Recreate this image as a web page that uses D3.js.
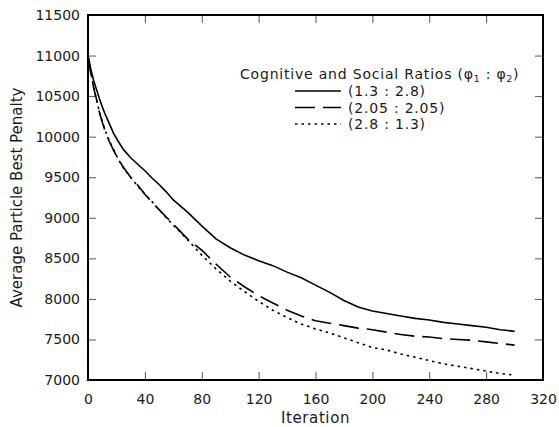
<!DOCTYPE html>
<html>
<head>
<meta charset="utf-8">
<script src="https://cdn.jsdelivr.net/npm/d3@7"></script>
<style>
  body { margin: 0; background: #fff; }
  text { font-family: "DejaVu Sans", Verdana, sans-serif; fill: #1a1a1a; }
</style>
</head>
<body>
<div id="chart"></div>
<script>
// iterations
const iterations = [0, 2, 4, 6, 8, 10, 12, 15, 18, 21, 25, 30, 35, 40, 45, 50, 55, 60, 70, 80, 90, 100,
  110, 120, 130, 140, 150, 160, 170, 180, 190, 200, 210, 220, 230, 240, 250, 260, 270, 280, 290, 300];

// (1.3 : 2.8)
const ratio13_28 = [11000, 10830, 10690, 10580, 10470, 10370, 10280, 10160, 10040, 9950, 9840, 9740, 9660, 9580, 9490, 9410, 9320, 9220, 9070, 8900, 8740, 8630,
  8540, 8470, 8410, 8330, 8260, 8170, 8080, 7980, 7900, 7850, 7820, 7790, 7760, 7740, 7710, 7690, 7670, 7650, 7620, 7600];
// (2.05 : 2.05)
const ratio205_205 = [11000, 10780, 10600, 10460, 10300, 10180, 10070, 9940, 9830, 9730, 9620, 9500, 9400, 9290, 9190, 9100, 9010, 8920, 8740, 8600, 8430, 8270,
  8150, 8040, 7950, 7860, 7790, 7730, 7700, 7670, 7640, 7620, 7590, 7560, 7540, 7530, 7510, 7500, 7490, 7470, 7450, 7430];
// (2.8 : 1.3)
const ratio28_13 = [11000, 10790, 10610, 10450, 10310, 10190, 10080, 9950, 9840, 9730, 9610, 9500, 9390, 9290, 9200, 9100, 9000, 8910, 8730, 8540, 8370, 8220,
  8090, 7970, 7860, 7770, 7690, 7630, 7580, 7520, 7460, 7400, 7370, 7320, 7280, 7240, 7200, 7170, 7140, 7110, 7080, 7060];

const seriesNames = ["(1.3 : 2.8)", "(2.05 : 2.05)", "(2.8 : 1.3)"];
const xTicks = [0, 40, 80, 120, 160, 200, 240, 280, 320];
const yTicks = [7000, 7500, 8000, 8500, 9000, 9500, 10000, 10500, 11000, 11500];

const width = 559, height = 427;
const margin = { left: 88, right: 16, top: 15, bottom: 47 };
const dashes = [null, "20,8", "2.5,4"];

const svg = d3.select("#chart").append("svg")
  .attr("width", width)
  .attr("height", height);

const x = d3.scaleLinear().domain([0, 320]).range([margin.left, width - margin.right]);
const y = d3.scaleLinear().domain([7000, 11500]).range([height - margin.bottom, margin.top]);

// inner ticks on all four sides
const addAxis = function (axis, tx, ty) {
  const g = svg.append("g").attr("transform", "translate(" + tx + "," + ty + ")").call(axis);
  g.select(".domain").remove();
  g.selectAll(".tick line").attr("stroke", "#555").attr("stroke-width", 1);
  g.selectAll(".tick text").style("font-size", "14px").attr("fill", "#1a1a1a");
  return g;
};

addAxis(d3.axisBottom(x).tickValues(xTicks).tickSize(-8).tickPadding(14).tickFormat(d3.format("d")), 0, y(7000));
addAxis(d3.axisTop(x).tickValues(xTicks).tickSize(-8).tickFormat(""), 0, y(11500));
addAxis(d3.axisLeft(y).tickValues(yTicks).tickSize(-8).tickPadding(8).tickFormat(d3.format("d")), x(0), 0);
addAxis(d3.axisRight(y).tickValues(yTicks).tickSize(-8).tickFormat(""), x(320), 0);

// frame
svg.append("rect")
  .attr("x", x(0)).attr("y", y(11500))
  .attr("width", x(320) - x(0)).attr("height", y(7000) - y(11500))
  .attr("fill", "none").attr("stroke", "#000").attr("stroke-width", 2);

const line = d3.line()
  .x(function (d) { return x(d[0]); })
  .y(function (d) { return y(d[1]); });

[ratio13_28, ratio205_205, ratio28_13].forEach(function (vals, i) {
  svg.append("path")
    .datum(iterations.map(function (it, j) { return [it, vals[j]]; }))
    .attr("fill", "none")
    .attr("stroke", "#000")
    .attr("stroke-width", 1.6)
    .attr("stroke-dasharray", dashes[i])
    .attr("d", line);
});

// axis titles
svg.append("text")
  .attr("x", (x(0) + x(320)) / 2).attr("y", 423)
  .attr("text-anchor", "middle").style("font-size", "15px").style("letter-spacing", "0.6px")
  .text("Iteration");

svg.append("text")
  .attr("transform", "translate(22," + (y(7000) + y(11500)) / 2 + ") rotate(-90)")
  .attr("text-anchor", "middle").style("font-size", "15px")
  .text("Average Particle Best Penalty");

// legend
const legend = svg.append("g");
const title = legend.append("text").attr("x", 240).attr("y", 79)
  .style("font-size", "14px").style("letter-spacing", "0.8px");
title.append("tspan").text("Cognitive and Social Ratios (\u03c6");
title.append("tspan").attr("dy", 3).style("font-size", "9px").text("1");
title.append("tspan").attr("dy", -3).text(" : \u03c6");
title.append("tspan").attr("dy", 3).style("font-size", "9px").text("2");
title.append("tspan").attr("dy", -3).text(")");

seriesNames.forEach(function (name, i) {
  const cy = 91 + i * 16.5;
  legend.append("line")
    .attr("x1", 295).attr("x2", 341).attr("y1", cy).attr("y2", cy)
    .attr("stroke", "#000").attr("stroke-width", 1.6)
    .attr("stroke-dasharray", dashes[i]);
  legend.append("text")
    .attr("x", 348).attr("y", cy + 5).style("font-size", "14px").style("letter-spacing", "0.8px")
    .text(name);
});
</script>
</body>
</html>
